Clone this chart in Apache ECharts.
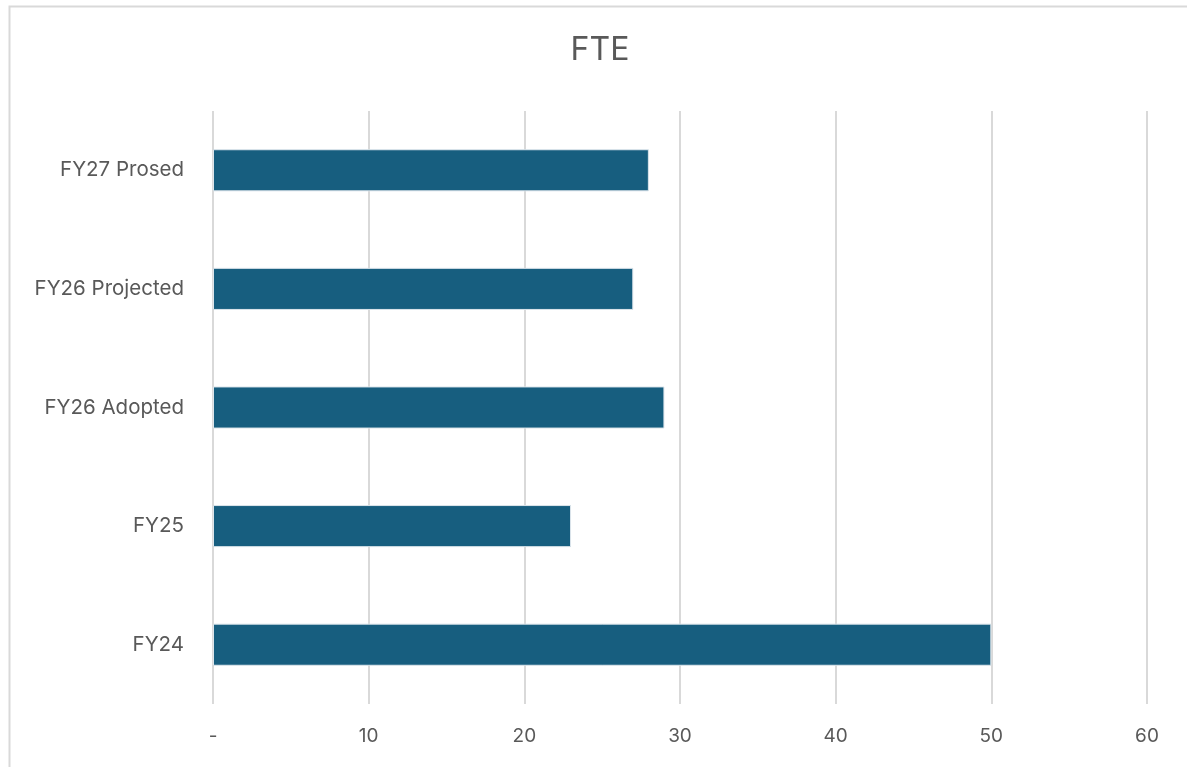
<!DOCTYPE html>
<html>
<head>
<meta charset="utf-8">
<script src="https://cdn.jsdelivr.net/npm/echarts@6/dist/echarts.min.js"></script>
<style>
html,body{margin:0;padding:0;background:#fff;}
#chart{width:1187px;height:767px;}
</style>
</head>
<body>
<div id="chart"></div>
<script>
const categories = ["FY24", "FY25", "FY26 Adopted", "FY26 Projected", "FY27 Prosed"];
const fteValues = [50, 23, 29, 27, 28];
const xTicks = { min: 0, max: 60, interval: 10 };
const titleText = "FTE";

const chart = echarts.init(document.getElementById('chart'), null, {renderer: 'canvas'});
const fontFam = 'Inter, "Liberation Sans", sans-serif';
chart.setOption({
  animation: false,
  backgroundColor: '#ffffff',
  graphic: [{
    type: 'rect', left: 7, top: 4, silent: true,
    shape: {x: 0, y: 0, width: 1200, height: 800},
    style: {fill: 'none', stroke: '#d9d9d9', lineWidth: 2}
  }, {
    type: 'text', x: 600, y: 50, silent: true,
    style: {text: titleText, align: 'center', verticalAlign: 'middle',
      font: '32px ' + fontFam, fill: '#595959'}
  }],
  grid: {left: 213, right: 40, top: 111, bottom: 63, containLabel: false},
  xAxis: {
    type: 'value', min: xTicks.min, max: xTicks.max, interval: xTicks.interval,
    axisLine: {show: false}, axisTick: {show: false},
    splitLine: {show: true, lineStyle: {color: '#d9d9d9', width: 2}},
    axisLabel: {
      margin: 23, color: '#595959', fontFamily: fontFam, fontSize: 19,
      formatter: v => v === 0 ? '-' : String(v)
    }
  },
  yAxis: {
    type: 'category', data: categories,
    axisLine: {show: false}, axisTick: {show: false},
    axisLabel: {margin: 29, color: '#595959', fontFamily: fontFam, fontSize: 20.5}
  },
  series: [{
    type: 'bar', data: fteValues, barWidth: '35.5%',
    itemStyle: {color: '#175e7f', borderColor: '#dde6ec', borderWidth: 1}
  }]
});
</script>
</body>
</html>
